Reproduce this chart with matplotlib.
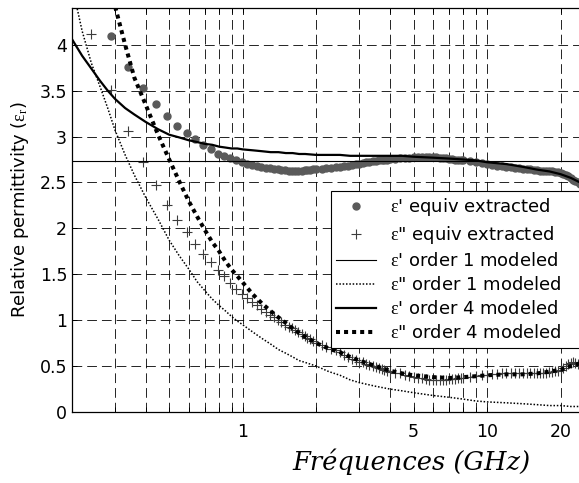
import matplotlib
matplotlib.use("Agg")
import matplotlib.pyplot as plt
from matplotlib.ticker import FixedLocator, NullFormatter

plt.rcParams["font.family"] = ["DejaVu Sans"]
plt.rcParams["mathtext.fontset"] = "custom"
plt.rcParams["mathtext.rm"] = "Liberation Serif"
plt.rcParams["mathtext.it"] = "Liberation Serif:italic"
plt.rcParams["lines.scale_dashes"] = False

# extracted permittivity (frequency in GHz)
freq_ext = [0.24, 0.29, 0.34, 0.39, 0.44, 0.49, 0.54, 0.59, 0.64, 0.69, 0.74, 0.79,
            0.84, 0.89, 0.94, 0.99, 1.04, 1.09, 1.14, 1.19, 1.24, 1.29, 1.34, 1.39,
            1.44, 1.49, 1.54, 1.59, 1.64, 1.69, 1.74, 1.79, 1.84, 1.89, 1.94, 1.99,
            2.1, 2.2, 2.3, 2.4, 2.5, 2.6, 2.7, 2.8, 2.9, 3.0, 3.1, 3.2, 3.3, 3.4, 3.5,
            3.6, 3.7, 3.8, 3.9, 4.0,
            4.2, 4.4, 4.6, 4.8, 5.0, 5.2, 5.4, 5.6, 5.8, 6.0, 6.2, 6.4, 6.6, 6.8, 7.0,
            7.2, 7.4, 7.6, 7.8, 8.0,
            8.5, 9.0, 9.5, 10.0, 10.5, 11.0, 11.5, 12.0, 12.5, 13.0, 13.5, 14.0, 14.5,
            15.0, 15.5, 16.0, 16.5, 17.0, 17.5, 18.0, 18.5, 19.0, 19.5, 20.0, 20.5,
            21.0, 21.5, 22.0, 22.5, 23.0, 23.5, 24.0]
eps1_ext = [4.65, 4.09, 3.76, 3.53, 3.35, 3.22, 3.12, 3.04, 2.97, 2.91, 2.86, 2.81,
            2.79, 2.77, 2.74, 2.72, 2.70, 2.69, 2.68, 2.67, 2.66, 2.66, 2.65, 2.65,
            2.64, 2.64, 2.63, 2.63, 2.63, 2.63, 2.63, 2.64, 2.64, 2.64, 2.65, 2.65,
            2.65, 2.66, 2.66, 2.67, 2.67, 2.68, 2.68, 2.69, 2.70, 2.70, 2.71, 2.72,
            2.72, 2.73, 2.73, 2.74, 2.74, 2.75, 2.75, 2.76,
            2.76, 2.77, 2.77, 2.77, 2.78, 2.78, 2.78, 2.78, 2.78, 2.78, 2.78, 2.77,
            2.77, 2.77, 2.76, 2.76, 2.75, 2.75, 2.74, 2.74,
            2.73, 2.72, 2.71, 2.70, 2.69, 2.68, 2.68, 2.67, 2.67, 2.66, 2.66, 2.65,
            2.65, 2.65, 2.64, 2.64, 2.63, 2.63, 2.63, 2.62, 2.62, 2.61, 2.61, 2.60,
            2.59, 2.58, 2.57, 2.55, 2.53, 2.52, 2.50, 2.48]
eps2_ext = [4.12, 3.51, 3.06, 2.72, 2.47, 2.25, 2.09, 1.96, 1.83, 1.72, 1.63, 1.55,
            1.48, 1.41, 1.34, 1.29, 1.24, 1.20, 1.16, 1.12, 1.09, 1.06, 1.03, 1.00,
            0.98, 0.95, 0.93, 0.91, 0.89, 0.87, 0.85, 0.83, 0.81, 0.79, 0.77, 0.75,
            0.73, 0.71, 0.69, 0.67, 0.65, 0.62, 0.60, 0.58, 0.57, 0.55, 0.54, 0.52,
            0.51, 0.50, 0.49, 0.48, 0.47, 0.46, 0.45, 0.44,
            0.43, 0.42, 0.40, 0.39, 0.38, 0.37, 0.37, 0.36, 0.35, 0.35, 0.35, 0.35,
            0.35, 0.35, 0.36, 0.36, 0.36, 0.37, 0.37, 0.37,
            0.38, 0.39, 0.40, 0.40, 0.41, 0.41, 0.42, 0.42, 0.42, 0.42, 0.42, 0.42,
            0.42, 0.42, 0.42, 0.42, 0.42, 0.43, 0.43, 0.44, 0.44, 0.45, 0.45, 0.46,
            0.48, 0.50, 0.52, 0.53, 0.54, 0.53, 0.52, 0.52]

# modeled permittivity
freq_mod = [0.2, 0.22, 0.24, 0.26, 0.28, 0.3, 0.33, 0.36, 0.4, 0.45, 0.5, 0.55, 0.6,
            0.65, 0.7, 0.75, 0.8, 0.85, 0.9, 0.95, 1.0, 1.1, 1.2, 1.3, 1.4, 1.5, 1.6,
            1.7, 1.8, 2.0, 2.25, 2.5, 2.75, 3.0, 3.5, 4.0, 4.5, 5.0, 6.0, 7.0, 8.0,
            9.0, 10, 12, 14, 16, 18, 20, 22, 24]
eps1_o1 = 2.73
eps2_o1 = [4.65, 4.15, 3.80, 3.55, 3.31, 3.07, 2.80, 2.58, 2.34, 2.10, 1.87, 1.70,
           1.56, 1.42, 1.32, 1.23, 1.16, 1.10, 1.04, 0.99, 0.95, 0.87, 0.80, 0.74,
           0.68, 0.64, 0.60, 0.56, 0.54, 0.50, 0.44, 0.40, 0.35, 0.32, 0.28, 0.25,
           0.23, 0.21, 0.18, 0.16, 0.14, 0.12, 0.11, 0.10, 0.09, 0.08, 0.07, 0.07,
           0.06, 0.06]
eps1_o4 = [4.06, 3.88, 3.74, 3.61, 3.50, 3.41, 3.31, 3.24, 3.16, 3.08, 3.02, 2.99,
           2.96, 2.94, 2.92, 2.91, 2.89, 2.88, 2.87, 2.87, 2.86, 2.85, 2.84, 2.83,
           2.83, 2.82, 2.82, 2.81, 2.81, 2.80, 2.80, 2.80, 2.79, 2.79, 2.79, 2.79,
           2.79, 2.78, 2.77, 2.76, 2.75, 2.74, 2.72, 2.70, 2.67, 2.64, 2.62, 2.59,
           2.55, 2.50]
eps2_o4 = [6.7, 6.1, 5.6, 5.15, 4.75, 4.42, 4.00, 3.64, 3.35, 3.02, 2.75, 2.51,
           2.30, 2.13, 1.98, 1.85, 1.75, 1.64, 1.55, 1.48, 1.41, 1.28, 1.18, 1.10,
           1.03, 0.97, 0.91, 0.86, 0.82, 0.75, 0.69, 0.65, 0.60, 0.56, 0.50, 0.45,
           0.42, 0.40, 0.38, 0.37, 0.38, 0.39, 0.40, 0.41, 0.41, 0.42, 0.44, 0.46,
           0.50, 0.53]

labels = [r"$\mathrm{ε}$' equiv extracted",
          r'$\mathrm{ε}$" equiv extracted',
          r"$\mathrm{ε}$' order 1 modeled",
          r'$\mathrm{ε}$" order 1 modeled',
          r"$\mathrm{ε}$' order 4 modeled",
          r'$\mathrm{ε}$" order 4 modeled']

xticks = [1, 5, 10, 20]
xtick_labels = ["1", "5", "10", "20"]
xminor = [0.2, 0.3, 0.4, 0.5, 0.6, 0.7, 0.8, 0.9, 2, 3, 4, 6, 7, 8, 9]
yticks = [0, 0.5, 1, 1.5, 2, 2.5, 3, 3.5, 4]

fig = plt.figure(figsize=(5.79, 4.83), dpi=100)
ax = fig.add_axes([72 / 579, 71 / 483, 508 / 579, 404 / 483])

ax.plot(freq_ext, eps1_ext, "o", color="#5a5a5a", mec="#5a5a5a", ms=5, label=labels[0])
ax.plot(freq_ext, eps2_ext, "+", color="#3c3c3c", ms=7, mew=0.8, label=labels[1])
ax.axhline(eps1_o1, color="k", lw=0.8, label=labels[2])
ax.plot(freq_mod, eps2_o1, color="k", lw=1.1, ls=(0, (1.1, 1.3)), label=labels[3])
ax.plot(freq_mod, eps1_o4, color="k", lw=1.6, label=labels[4])
ax.plot(freq_mod, eps2_o4, color="k", lw=2.9, ls=(0, (2.9, 2.9)), label=labels[5])

ax.set_xscale("log")
ax.set_xlim(0.2, 24)
ax.set_ylim(0, 4.4)
ax.xaxis.set_major_locator(FixedLocator(xticks))
ax.set_xticklabels(xtick_labels)
ax.xaxis.set_minor_locator(FixedLocator(xminor))
ax.xaxis.set_minor_formatter(NullFormatter())
ax.set_yticks(yticks)
ax.set_yticklabels(["0", "0.5", "1", "1.5", "2", "2.5", "3", "3.5", "4"])
ax.tick_params(which="both", direction="in", top=True, right=False,
               length=3.5, width=0.7, labelsize=12.5)
ax.tick_params(axis="x", pad=8)

ax.grid(True, which="both", color="k", ls=(0, (7, 3.6)), lw=0.6)
for s in ax.spines.values():
    s.set_linewidth(0.9)

ax.set_xlabel("Fréquences (GHz)", family="DejaVu Serif", style="italic", fontsize=18.5)
ax.xaxis.set_label_coords((411 - 72) / 508, -0.09)
ax.set_ylabel(r"Relative permittivity ($\mathrm{ε_r}$)", fontsize=13, labelpad=6)

# legend frame runs past the right edge, as in the cropped original
leg = ax.legend(loc="upper left", bbox_to_anchor=(0.509, 0, 0.53, 0.547), mode="expand",
                fontsize=13, fancybox=False, edgecolor="k", framealpha=1,
                handlelength=2.2, handletextpad=0.8, borderpad=0.3,
                labelspacing=0.33, borderaxespad=0)
leg.get_frame().set_linewidth(0.8)

fig.savefig("out.png", dpi=100)
plt.close(fig)
